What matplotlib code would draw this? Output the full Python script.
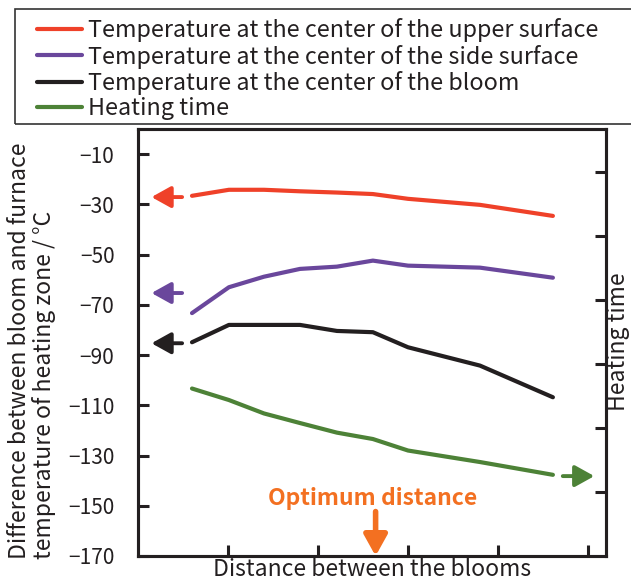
import matplotlib
matplotlib.use("Agg")
import matplotlib.pyplot as plt
from matplotlib.patches import Rectangle

plt.rcParams['font.family'] = ['Noto Sans CJK JP', 'DejaVu Sans']

# ---- data ----
distance = [0.60, 1.01, 1.40, 1.80, 2.21, 2.61, 3.00, 3.80, 4.61]
upper_surface = [-26.6, -24.2, -24.2, -24.8, -25.3, -25.9, -27.8, -30.2, -34.6]
side_surface = [-73.3, -63.0, -58.8, -55.7, -54.8, -52.4, -54.4, -55.2, -59.2]
bloom_center = [-84.9, -78.0, -78.0, -78.0, -80.4, -80.9, -86.9, -94.2, -106.8]
heating_time = [2.62, 2.44, 2.23, 2.08, 1.93, 1.83, 1.65, 1.47, 1.27]

labels = ["Temperature at the center of the upper surface",
          "Temperature at the center of the side surface",
          "Temperature at the center of the bloom",
          "Heating time"]
colors = ["#ef4129", "#6a479c", "#231f20", "#4d8237"]
orange = "#f37021"
ink = "#231f20"

y_ticks = [-10, -30, -50, -70, -90, -110, -130, -150, -170]
x_ticks = [1, 2, 3, 4, 5]
right_ticks = [1, 2, 3, 4, 5, 6]
optimum_x = 2.64

W, H = 631, 582
fig = plt.figure(figsize=(W / 100, H / 100), dpi=100)
ax = fig.add_axes([138 / W, 1 - 556 / H, (606 - 138) / W, (556 - 129) / H])
ax2 = ax.twinx()

lw = 3.0
l1, = ax.plot(distance, upper_surface, color=colors[0], lw=lw, solid_capstyle='round')
l2, = ax.plot(distance, side_surface, color=colors[1], lw=lw, solid_capstyle='round')
l3, = ax.plot(distance, bloom_center, color=colors[2], lw=lw, solid_capstyle='round')
l4, = ax2.plot(distance, heating_time, color=colors[3], lw=lw, solid_capstyle='round')

ax.set_xlim(0, 5.2)
ax.set_ylim(-170, 0)
ax2.set_ylim(0, 6.68)

ax.set_xticks(x_ticks)
ax.set_xticklabels([])
ax.set_yticks(y_ticks)
ax.set_yticklabels([f"\u2212{abs(v)}" for v in y_ticks])
ax2.set_yticks(right_ticks)
ax2.set_yticklabels([])

for a in (ax, ax2):
    for s in a.spines.values():
        s.set_linewidth(2.2)
        s.set_color(ink)
ax.tick_params(axis='both', direction='in', length=8, width=2.2, color=ink,
               labelsize=15, labelcolor=ink, pad=17, right=False, top=False)
ax2.tick_params(axis='y', direction='in', length=8, width=2.2, color=ink)

fs = 16.5
fig.text(372 / W, 1 - 576 / H, "Distance between the blooms", fontsize=fs,
         ha='center', va='baseline', color=ink)
fig.text(630 / W, 1 - 341.5 / H, "Heating time", fontsize=fs,
         rotation=90, ha='right', va='center', color=ink)
fig.text(8 / W, 1 - 559 / H,
         "Difference between bloom and furnace\ntemperature of heating zone / \u00b0C",
         rotation=90, ha='left', va='bottom', multialignment='left',
         fontsize=fs, linespacing=1.05, color=ink)

# side arrows pointing to the axis each series belongs to
arrow_kw = dict(arrowstyle='-|>,head_length=0.9,head_width=0.5', lw=2.8,
                shrinkA=0, shrinkB=0, mutation_scale=13)
for yv, c in zip([upper_surface[0] - 0.5, side_surface[0] + 8.0, bloom_center[0] - 0.4], colors[:3]):
    ax.annotate("", xy=(0.15, yv), xytext=(0.49, yv),
                arrowprops=dict(color=c, **arrow_kw))
ax2.annotate("", xy=(5.07, heating_time[-1] - 0.02), xytext=(4.72, heating_time[-1] - 0.02),
             arrowprops=dict(color=colors[3], **arrow_kw))

# optimum distance marker
ax.annotate("", xy=(optimum_x, -170), xytext=(optimum_x, -152.3),
            arrowprops=dict(arrowstyle='-|>,head_length=0.9,head_width=0.5', lw=4,
                            color=orange, shrinkA=0, shrinkB=0, mutation_scale=14),
            annotation_clip=False)
ax.text(optimum_x - 0.03, -147.3, "Optimum distance", color=orange, fontsize=16.5,
        fontweight='bold', ha='center', va='center')

# legend box (extends past the right edge like the original)
fig.patches.append(Rectangle((15 / W, 1 - 124 / H), (660 - 15) / W, (124 - 9) / H,
                             transform=fig.transFigure, fill=False,
                             edgecolor="#333333", lw=1.2))
leg = fig.legend([l1, l2, l3, l4], labels, loc='upper left',
                 bbox_to_anchor=(37 / W, 1 - 18.5 / H), fontsize=16.8,
                 frameon=False, handlelength=45 / 23.3, handletextpad=0.25,
                 labelspacing=0.09, borderpad=0, borderaxespad=0)
for t in leg.get_texts():
    t.set_color(ink)

fig.savefig("out.png", dpi=100)
